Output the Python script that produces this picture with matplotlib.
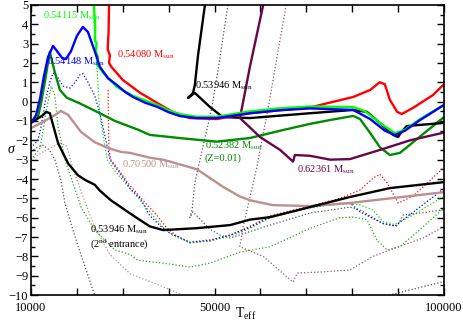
import matplotlib
matplotlib.use("Agg")
import matplotlib.pyplot as plt
from matplotlib.ticker import MultipleLocator

plt.rcParams['font.family'] = ['Liberation Serif', 'DejaVu Serif']
plt.rcParams['mathtext.fontset'] = 'custom'
plt.rcParams['mathtext.rm'] = 'Liberation Serif'
plt.rcParams['mathtext.it'] = 'Liberation Serif:italic'

# ---- solid curves (sigma vs Teff) ----
blue_T = [10000, 11100, 12000, 12800, 13700, 14800, 15700, 16800, 17600, 18700, 20000, 21300, 22400,
          23900, 25000, 26800, 28700, 30500, 32200, 34800, 37500, 40000, 42500, 46000, 50500, 57700,
          64000, 70800, 80200, 83900, 87100, 89300, 91500, 94800, 100000]
blue_s = [-1.1, -0.7, 0.2, 1.3, 2.3, 2.88, 2.6, 2.25, 2.2, 2.6, 3.4, 3.86, 3.6,
          2.6, 1.8, 1.2, 0.86, 0.5, 0.24, -0.05, -0.27, -0.55, -0.75, -0.85, -0.85, -0.6,
          -0.45, -0.35, -0.43, -0.9, -1.5, -1.73, -1.5, -0.95, -0.17]

lgreen_T = [23700, 24000, 23900, 24300, 24100, 24600, 24400, 25700, 28700, 32200, 37500, 40000, 42500,
            46000, 50500, 57700, 64000, 70800, 80200, 82800, 86000, 89300, 91500, 94800, 100000]
lgreen_s = [5.0, 3.8, 3.2, 3.0, 2.6, 2.3, 1.9, 1.5, 0.76, 0.3, -0.17, -0.45, -0.65,
            -0.78, -0.78, -0.5, -0.35, -0.25, -0.28, -0.5, -1.1, -1.63, -1.45, -0.9, -0.17]

red_T = [27000, 26900, 26700, 27200, 27000, 27500, 30000, 33800, 37500, 41000, 44600, 50500, 57700,
         64000, 70800, 80200, 83900, 86000, 87100, 88200, 89800, 90800, 93200, 97600, 100000]
red_s = [5.0, 3.6, 2.7, 2.4, 2.0, 1.8, 1.12, 0.45, -0.07, -0.55, -0.85, -0.9, -0.6,
         -0.45, -0.3, 0.24, 0.6, 1.0, 0.9, 0.09, -0.53, -0.64, -0.33, 0.34, 0.9]

dgreen_T = [10000, 11500, 12200, 13000, 13700, 14100, 15200, 16300, 17800, 20700, 25000, 28300, 33300,
            35900, 43100, 50500, 57700, 64900, 70800, 75200, 80200, 81700, 83900, 86000, 88200, 90400,
            94800, 100000]
dgreen_s = [-1.05, -0.8, -0.07, 1.0, 2.0, 2.57, 1.5, 0.6, 0.2, -0.1, -0.6, -1.0, -1.45,
            -1.72, -1.9, -2.07, -1.88, -1.47, -1.15, -0.95, -0.74, -0.9, -1.62, -2.35, -2.76, -2.65,
            -1.8, -0.8]

blk2_T = [10000, 12600, 13300, 14100, 15900, 18100, 20200, 21800, 23900, 25000, 27400, 31100, 33300,
          35900, 38800, 46200, 53400, 57700, 62100, 70800, 79500, 88200, 100000]
blk2_s = [-1.1, -0.7, -0.53, -0.6, -2.15, -3.2, -3.8, -4.05, -4.3, -4.6, -5.1, -5.7, -6.05,
          -6.45, -6.64, -6.54, -6.38, -6.1, -5.97, -5.45, -4.93, -4.47, -4.16]

blk1_T = [47900, 46400, 45700, 45300, 44200, 45700, 49000, 51800, 57700, 70800, 80200, 83200, 86000,
          88900, 90000, 90600, 91900, 100000]
blk1_s = [5.0, 2.4, 0.86, 0.45, 0.19, 0.45, -0.28, -0.8, -0.85, -0.6, -0.43, -0.53, -1.1,
          -1.72, -1.83, -1.6, -1.26, -1.1]

rosy_T = [10000, 12200, 15200, 16500, 18100, 20900, 23900, 26800, 29600, 31600, 33300, 35900, 38800,
          46200, 51800, 55500, 57700, 62700, 70800, 79500, 100000]
rosy_s = [-1.37, -1.1, -0.7, -0.48, -0.69, -1.57, -2.1, -2.4, -2.6, -2.65, -2.75, -2.9, -3.0,
          -3.5, -4.4, -4.9, -5.1, -5.35, -5.4, -5.24, -4.68]

purple_T = [60600, 57700, 56000, 55500, 59900, 64300, 67100, 67500, 70800, 75200, 79500, 86000, 92600, 100000]
purple_s = [5.0, 1.8, -0.28, -0.84, -1.83, -2.5, -3.1, -2.76, -2.8, -3.0, -2.97, -2.5, -2.0, -1.6]

# ---- dotted curves ----
blue_d_T = [10000, 11500, 12200, 13100, 14100, 14800, 15700, 17000, 18500, 19600, 20700, 21300, 22400,
            23900, 25000, 26600, 27200, 30000, 31600, 33800, 35900, 38100, 40300, 44600, 49000, 53400,
            57700, 62100, 70800, 79500, 81700, 86700, 89300, 91900, 100000]
blue_d_s = [-2.4, -2.0, -1.3, 0.0, 1.0, 1.48, 1.3, 0.8, 0.7, 1.0, 1.4, 1.45, 1.0,
            0.3, -0.59, -2.3, -3.0, -3.9, -4.5, -5.0, -5.9, -6.4, -6.8, -7.26, -7.15, -6.9,
            -6.5, -5.97, -5.45, -5.24, -5.7, -6.3, -6.43, -5.96, -4.5]

lgreen_d_T = [23500, 24000, 24400, 25000, 26600, 28000, 30500, 33800, 36600, 38800, 40800, 44600, 49000,
              53400, 57700, 62100, 70800, 77300, 81700, 84500, 86700, 89300, 93200, 100000]
lgreen_d_s = [5.0, 3.0, 1.6, -0.7, -3.0, -3.5, -4.2, -5.1, -5.9, -6.5, -6.9, -7.3, -7.2,
              -6.95, -6.55, -6.0, -5.5, -5.25, -5.34, -5.6, -6.2, -6.35, -5.86, -4.9]

red_d_T = [26800, 26900, 27000, 27400, 29000, 31100, 34400, 37500, 39500, 41500, 44600, 49000, 53400,
           57700, 62100, 70800, 77300, 81700, 84500, 86000, 87600, 90000, 93200, 100000]
red_d_s = [0.6, -1.5, -2.5, -3.0, -3.5, -4.2, -5.1, -5.9, -6.5, -6.9, -7.3, -7.2, -6.9,
           -6.45, -5.9, -5.4, -5.0, -4.57, -3.96, -3.75, -4.2, -5.24, -4.9, -3.4]

dgreen_d_T = [10000, 12000, 13300, 14400, 15200, 15900, 17400, 18700, 20900, 23900, 28300, 31600, 33300,
              38800, 44600, 49000, 55500, 62100, 70800, 77300, 80200, 83200, 85400, 87600, 90400, 94800,
              100000]
dgreen_d_s = [-3.0, -2.4, -0.5, 0.8, 0.3, -1.3, -3.0, -3.9, -5.45, -6.64, -7.67, -7.9, -8.2,
              -8.35, -8.55, -8.35, -7.78, -7.5, -6.55, -6.0, -5.97, -6.1, -7.16, -7.67, -7.5, -6.6,
              -5.5]

blk_d1_T = [10000, 11000, 12600, 14000, 15200, 16500, 17400, 19600, 21800, 23500, 23900]
blk_d1_s = [-2.6, -2.4, -2.25, -2.5, -3.0, -4.05, -5.25, -7.0, -8.55, -9.75, -10.0]

blk_d2_T = [52900, 51000, 49400, 47300, 45700, 45100, 44600, 45300, 49000, 51200, 53400, 62100, 70800,
            79500, 81700, 86700, 89800, 91100, 94800, 100000]
blk_d2_s = [5.0, 2.0, -0.33, -2.5, -4.2, -5.6, -6.0, -5.7, -6.6, -6.9, -7.05, -6.38, -5.76,
            -5.45, -5.6, -6.3, -6.43, -5.86, -5.76, -5.58]

blk_d3_T = [88000, 100000]
blk_d3_s = [-10.0, -9.3]

rosy_d_T = [10000, 12600, 16300, 17800, 19200, 21800, 23900, 27200, 31600, 38100, 43100]
rosy_d_s = [-3.0, -2.6, -2.15, -2.3, -3.5, -5.2, -6.5, -7.9, -8.9, -9.5, -10.0]

purple_d_T = [65600, 61600, 59200, 56200, 55500, 60600, 67100, 68000, 73600, 79500, 84500, 88900, 95400, 100000]
purple_d_s = [5.0, -0.43, -3.4, -6.5, -7.5, -8.0, -9.33, -8.86, -8.8, -8.7, -8.0, -7.6, -7.05, -6.45]

c_red = '#ff0000'
c_lgreen = '#00ff00'
c_blue = '#0000ff'
c_dgreen = '#008b00'
c_rosy = '#bc8f8f'
c_purple = '#670748'

fig = plt.figure(figsize=(4.63, 3.25), dpi=100)
ax = fig.add_axes([0.067, 0.092, 0.892, 0.893])

dl = dict(ls=':', lw=0.9)
ax.plot(blk_d1_T, blk_d1_s, color='#555555', **dl)
ax.plot(blk_d2_T, blk_d2_s, color='#555555', **dl)
ax.plot(blk_d3_T, blk_d3_s, color='#555555', **dl)
ax.plot(rosy_d_T, rosy_d_s, color=c_rosy, **dl)
ax.plot(purple_d_T, purple_d_s, color='#9a5080', **dl)
ax.plot(dgreen_d_T, dgreen_d_s, color='#22aa22', **dl)
ax.plot(red_d_T, red_d_s, color=c_red, **dl)
ax.plot(lgreen_d_T, lgreen_d_s, color='#00dd00', **dl)
ax.plot(blue_d_T, blue_d_s, color=c_blue, **dl)

sl = dict(lw=1.7, solid_joinstyle='round')
ax.plot(dgreen_T, dgreen_s, color=c_dgreen, **sl)
ax.plot(rosy_T, rosy_s, color=c_rosy, **sl)
ax.plot(blk2_T, blk2_s, color='black', **sl)
ax.plot(blk1_T, blk1_s, color='black', **sl)
ax.plot(purple_T, purple_s, color=c_purple, **sl)
ax.plot(red_T, red_s, color=c_red, **sl)
ax.plot(lgreen_T, lgreen_s, color=c_lgreen, **sl)
ax.plot(blue_T, blue_s, color=c_blue, **sl)

fs = 7.5
ax.text(12600, 4.43, r'0.54115 M$_{\rm sun}$', color=c_lgreen, fontsize=fs, va='center')
ax.text(28700, 2.4, r'0.54080 M$_{\rm sun}$', color=c_red, fontsize=fs, va='center')
ax.text(13500, 2.05, r'0.54148 M$_{\rm sun}$', color=c_blue, fontsize=fs, va='center')
ax.text(45700, 0.8, r'0.53946 M$_{\rm sun}$', color='black', fontsize=fs, va='center')
ax.text(47900, -2.3, r'0.52382 M$_{\rm sun}$', color=c_dgreen, fontsize=fs, va='center')
ax.text(47900, -2.9, '(Z=0.01)', color=c_dgreen, fontsize=fs, va='center')
ax.text(29800, -3.28, r'0.70500 M$_{\rm sun}$', color=c_rosy, fontsize=fs, va='center')
ax.text(68000, -3.53, r'0.62361 M$_{\rm sun}$', color=c_purple, fontsize=fs, va='center')
ax.text(22900, -6.64, r'0.53946 M$_{\rm sun}$', color='black', fontsize=fs, va='center')
ax.text(22900, -7.35, r'(2$^{\rm nd}$ entrance)', color='black', fontsize=fs, va='center')

ax.set_xlim(10000, 100000)
ax.set_ylim(-10, 5)
ax.xaxis.set_major_locator(MultipleLocator(10000))
ax.set_xticklabels([])
xt = [10000, 50000, 100000]
for t in xt:
    ax.text(t, -10.35, str(t), ha='center', va='top', fontsize=9)
ax.yaxis.set_major_locator(MultipleLocator(1))
ax.yaxis.set_minor_locator(MultipleLocator(0.5))
ax.tick_params(which='both', direction='in', top=True, right=True, labelsize=9, pad=2)
ax.tick_params(which='major', length=5, width=1)
ax.tick_params(which='minor', length=3, width=1)
for sp in ax.spines.values():
    sp.set_linewidth(1.2)

fig.text(0.026, 0.54, r'$\sigma$', fontsize=10, ha='center', va='center')
fig.text(0.53, 0.035, r'T$_{\rm eff}$', fontsize=10, ha='center', va='center')

fig.savefig('out.png', dpi=100)
